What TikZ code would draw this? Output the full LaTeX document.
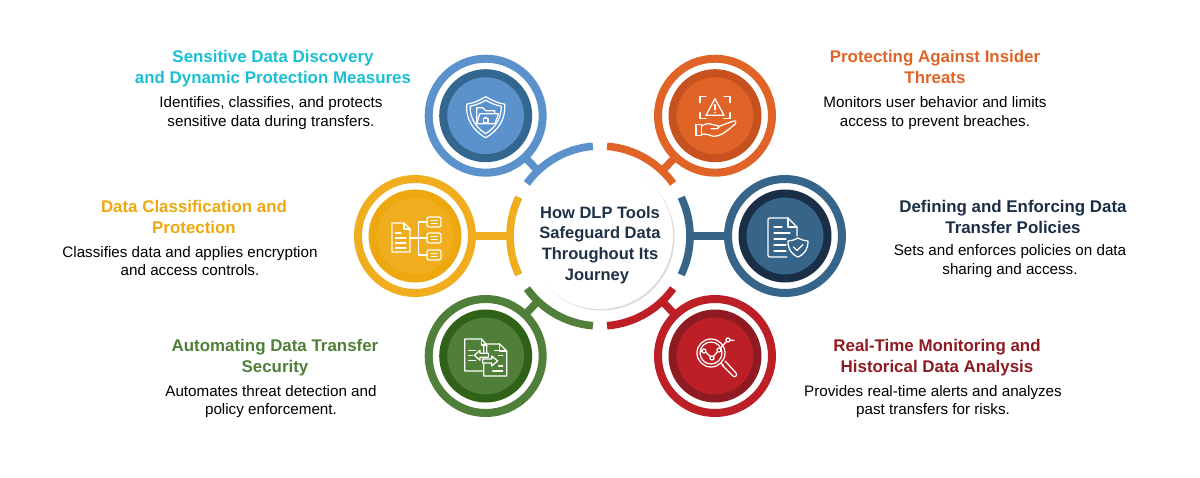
\documentclass[tikz,border=0pt]{standalone}
\usepackage{xcolor}
\usepackage{fontspec}
\setmainfont{Liberation Sans}
\usetikzlibrary{positioning}
\pgfdeclarelayer{bg}
\pgfsetlayers{bg,main}

\definecolor{discoveryblue}{HTML}{5B92CC}
\definecolor{discoverydark}{HTML}{34678F}
\definecolor{discoverytitle}{HTML}{1BBFD3}
\definecolor{insiderorange}{HTML}{E06427}
\definecolor{insiderdark}{HTML}{C8521F}
\definecolor{classifyyellow}{HTML}{F0AE1F}
\definecolor{classifydark}{HTML}{EEA80F}
\definecolor{policyblue}{HTML}{37658A}
\definecolor{policydark}{HTML}{1A2F45}
\definecolor{automategreen}{HTML}{4F7F39}
\definecolor{automatedark}{HTML}{2F6117}
\definecolor{monitorred}{HTML}{BD1F26}
\definecolor{monitordark}{HTML}{8E1B22}
\definecolor{hubtext}{HTML}{1F3146}

\tikzset{
	ring/.style = {circle,draw=#1,line width=8pt,minimum size=114pt,inner sep=0pt,outer sep=0pt},
	core/.style 2 args = {circle,fill=#1,draw=#2,line width=8pt,minimum size=85pt,inner sep=0pt},
	band/.style = {draw=#1,line width=7.6pt},
	iconline/.style = {draw=white,line width=1.25pt,line join=round,line cap=round},
	headtext/.style = {text=#1,font=\fontsize{16.9}{21}\selectfont\bfseries,align=center},
	bodytext/.style = {text=black,font=\fontsize{15.2}{18.7}\selectfont,align=center}
}

\begin{document}
\begin{tikzpicture}[x=1pt,y=1pt]
	\useasboundingbox (-600,-241) rectangle (600,236);

	% centre disk
	\begin{pgfonlayer}{bg}
		\fill[black!14] (1.5,-1.5) circle[radius=73pt];
	\end{pgfonlayer}
	\node[circle,fill=white,minimum size=146pt,inner sep=0pt] (hub) at (0,0) {};
	\node[text=hubtext,font=\fontsize{16.5}{20.8}\selectfont\bfseries,align=center] (hubtitle) at (0,-9) {How DLP Tools\\Safeguard Data\\Throughout Its\\Journey\hspace*{6pt}};

	% arcs round the disk
	\draw[band=discoveryblue] (94.5:90) arc[start angle=94.5,end angle=144.3,radius=90pt];
	\draw[band=insiderorange] (35.7:90) arc[start angle=35.7,end angle=85.5,radius=90pt];
	\draw[band=classifyyellow] (154.5:90) arc[start angle=154.5,end angle=205.5,radius=90pt];
	\draw[band=policyblue] (-25.5:90) arc[start angle=-25.5,end angle=25.5,radius=90pt];
	\draw[band=automategreen] (215.7:90) arc[start angle=215.7,end angle=265.5,radius=90pt];
	\draw[band=monitorred] (274.5:90) arc[start angle=274.5,end angle=324.3,radius=90pt];

	\coordinate (discoveryjoin) at (133.6:90);
	\coordinate (insiderjoin) at (46.4:90);
	\coordinate (classifyjoin) at (180:90);
	\coordinate (policyjoin) at (0:90);
	\coordinate (automatejoin) at (226.4:90);
	\coordinate (monitorjoin) at (313.6:90);

	% rings
	\node[ring=discoveryblue] (discoveryring) at (-114.3,120.3) {};
	\node[ring=insiderorange] (insiderring) at (115,120.3) {};
	\node[ring=classifyyellow] (classifyring) at (-185,0) {};
	\node[ring=policyblue] (policyring) at (185,0) {};
	\node[ring=automategreen] (automatering) at (-114.3,-120) {};
	\node[ring=monitorred] (monitorring) at (115,-120) {};

	\draw[band=discoveryblue] (discoveryring) -- (discoveryjoin);
	\draw[band=insiderorange] (insiderring) -- (insiderjoin);
	\draw[band=classifyyellow] (classifyring) -- (classifyjoin);
	\draw[band=policyblue] (policyring) -- (policyjoin);
	\draw[band=automategreen] (automatering) -- (automatejoin);
	\draw[band=monitorred] (monitorring) -- (monitorjoin);

	\node[core={discoveryblue}{discoverydark}] (discoverycore) at (discoveryring) {};
	\node[core={insiderorange}{insiderdark}] (insidercore) at (insiderring) {};
	\node[core={classifyyellow}{classifydark}] (classifycore) at (classifyring) {};
	\node[core={policyblue}{policydark}] (policycore) at (policyring) {};
	\node[core={automategreen}{automatedark}] (automatecore) at (automatering) {};
	\node[core={monitorred}{monitordark}] (monitorcore) at (monitorring) {};

	% shield with folder
	\begin{scope}[shift={(discoverycore.center)},every path/.append style={iconline}]
		\draw (0,19) .. controls (-6,15.5) and (-12,12.5) .. (-19,11.5) .. controls (-20,-2) and (-14,-14) .. (0,-22) .. controls (14,-14) and (20,-2) .. (19,11.5) .. controls (12,12.5) and (6,15.5) .. (0,19) -- cycle;
		\draw (0,15.5) .. controls (-5,12.5) and (-10,10.5) .. (-15.5,9.5) .. controls (-16,-1) and (-11,-11) .. (0,-18) .. controls (11,-11) and (16,-1) .. (15.5,9.5) .. controls (10,10.5) and (5,12.5) .. (0,15.5) -- cycle;
		\draw (-9,-8) -- (-9,8) -- (-3,8) -- (0,5) -- (9,5) -- (9,2);
		\draw (-9,-8) -- (-6,2) -- (13,2) -- (9,-8) -- cycle;
		\draw (-2.3,-6.5) rectangle (2.3,-2.5);
		\draw (-1.2,-2.5) arc[start angle=180,end angle=0,radius=1.2pt];
	\end{scope}

	% hand under a warning sign
	\begin{scope}[shift={(insidercore.center)},every path/.append style={iconline}]
		\draw (-15,13) -- (-15,19) -- (-9,19);
		\draw (9,19) -- (15,19) -- (15,13);
		\draw (-15,3) -- (-15,-3) -- (-9,-3);
		\draw (9,-3) -- (15,-3) -- (15,3);
		\draw (0,17) -- (-9,0.5) -- (9,0.5) -- cycle;
		\draw (0,11) -- (0,6);
		\draw (0,3.4) -- (0,3.2);
		\draw (-19,-9) rectangle (-13.5,-20);
		\draw (-13.5,-10.5) .. controls (-9,-7.5) and (-6,-7.5) .. (-2,-9) -- (3,-10) .. controls (5,-11) and (4,-13) .. (2,-13) -- (-4,-13);
		\draw (3,-11) -- (18,-5.5) .. controls (21,-4.5) and (22,-7) .. (20,-8.5) .. controls (12,-15) and (6,-21) .. (-2,-20.5) .. controls (-6,-19) and (-10,-18) .. (-13.5,-18.5);
	\end{scope}

	% document with a tree of boxes
	\begin{scope}[shift={(classifycore.center)},every path/.append style={iconline}]
		\draw (-23,13) -- (-11,13) -- (-5,7) -- (-5,-16) -- (-23,-16) -- cycle;
		\draw (-11,13) -- (-11,7) -- (-5,7);
		\draw (-19.5,3) -- (-14,3);
		\draw (-19.5,-2) -- (-9,-2);
		\draw (-19.5,-7) -- (-9,-7);
		\draw (-19.5,-12) -- (-9,-12);
		\draw (-5,-2) -- (12,-2);
		\draw (12,14) -- (3.5,14) -- (3.5,-19) -- (12,-19);
		\draw[rounded corners=2pt] (12,9) rectangle (26,19);
		\draw[rounded corners=2pt] (12,-7) rectangle (26,3);
		\draw[rounded corners=2pt] (12,-24) rectangle (26,-14);
		\draw (16,15.5) -- (22,15.5) (16,12.5) -- (22,12.5);
		\draw (16,-0.5) -- (22,-0.5) (16,-3.5) -- (22,-3.5);
		\draw (16,-17.5) -- (22,-17.5) (16,-20.5) -- (22,-20.5);
	\end{scope}

	% document with a shield
	\begin{scope}[shift={(policycore.center)},every path/.append style={iconline}]
		\draw (2,-21) -- (-15,-21) .. controls (-16.5,-21) and (-17,-20) .. (-17,-19) -- (-17,16) .. controls (-17,17.5) and (-16.5,18) .. (-15,18) -- (3,18) -- (12,9) -- (12,0);
		\draw (3,18) -- (3,9) -- (12,9);
		\draw (-11,9) -- (-3,9);
		\draw (-11,3) -- (5,3);
		\draw (-11,-3) -- (1,-3);
		\draw (-11,-9) -- (1,-9);
		\draw (-11,-15) -- (1,-15);
		\draw (13,-2) .. controls (9,-4) and (6,-5) .. (3,-5) .. controls (3,-13) and (6,-18) .. (13,-21) .. controls (20,-18) and (23,-13) .. (23,-5) .. controls (20,-5) and (17,-4) .. (13,-2) -- cycle;
		\draw (8.5,-11) -- (12,-14.5) -- (18,-8.5);
	\end{scope}

	% two documents with arrows
	\begin{scope}[shift={(automatecore.center)},every path/.append style={iconline}]
		\draw (-2,-8) -- (-2,-15) -- (-21,-15) -- (-21,17) -- (-4,17) -- (1,11) -- (1,3);
		\draw (-4,17) -- (-4,11) -- (1,11);
		\draw (-2,3) -- (-2,12) -- (14,12) -- (21,5) -- (21,-20) -- (-2,-20) -- (-2,-15);
		\draw (14,12) -- (14,5) -- (21,5);
		\draw (-17,5.5) -- (-10,5.5) (-17,0.5) -- (-13,0.5) (-17,-4.5) -- (-10,-4.5);
		\draw (9,5.5) -- (17,5.5) (13,0.5) -- (17,0.5) (13,-10) -- (17,-10) (7,-15) -- (17,-15);
		\draw (2.7,2.7) -- (-5.7,2.7) -- (-5.7,5.7) -- (-11.3,0.7) -- (-5.7,-4.3) -- (-5.7,-1.3) -- (2.7,-1.3) -- cycle;
		\draw (-3,-3) -- (6,-3) -- (6,0) -- (12,-5) -- (6,-10) -- (6,-7) -- (-3,-7) -- cycle;
	\end{scope}

	% magnifier over a chart
	\begin{scope}[shift={(monitorcore.center)},every path/.append style={iconline}]
		\draw (-4,3) circle[radius=14pt];
		\draw (-4,3) circle[radius=11pt];
		\draw (6,-7) -- (8.5,-9.5);
		\draw (7,-9) -- (9,-11) -- (18,-20) .. controls (20,-22) and (23,-19) .. (21,-17) -- (12,-7) -- (10,-5);
		\draw (-14.5,5) -- (-12.5,5);
		\draw (-9.5,4) -- (-4.5,-0.5);
		\draw (-1.5,-0.5) -- (2.5,4.5);
		\draw (5.5,8) -- (11.5,14.5);
		\draw (15,16) -- (19,15.5);
		\draw (-11,5) circle[radius=2pt];
		\draw (-3,-2) circle[radius=2pt];
		\draw (4,6) circle[radius=2pt];
		\draw (13,16) circle[radius=2pt];
	\end{scope}

	% texts
	\node[headtext=discoverytitle] (discoveryhead) at (-327,167.5) {Sensitive Data Discovery\\and Dynamic Protection Measures};
	\node[bodytext] (discoverybody) at (-329,123) {Identifies, classifies, and protects\\sensitive data during transfers.};

	\node[headtext=insiderorange] (insiderhead) at (335,169) {Protecting Against Insider\\Threats};
	\node[bodytext] (insiderbody) at (335,123) {Monitors user behavior and limits\\access to prevent breaches.};

	\node[headtext=classifydark] (classifyhead) at (-406,19) {Data Classification and\\Protection};
	\node[bodytext] (classifybody) at (-410,-25) {Classifies data and applies encryption\\and access controls.};

	\node[headtext=policydark] (policyhead) at (413,19) {Defining and Enforcing Data\\Transfer Policies};
	\node[bodytext] (policybody) at (410,-25) {Sets and enforces policies on data\\sharing and access.};

	\node[headtext=automategreen] (automatehead) at (-325,-121.5) {Automating Data Transfer\\Security};
	\node[bodytext] (automatebody) at (-329,-165.5) {Automates threat detection and\\policy enforcement.};

	\node[headtext=monitordark] (monitorhead) at (337,-121.5) {Real-Time Monitoring and\\Historical Data Analysis};
	\node[bodytext] (monitorbody) at (333,-165.5) {Provides real-time alerts and analyzes\\past transfers for risks.};

\end{tikzpicture}
\end{document}
